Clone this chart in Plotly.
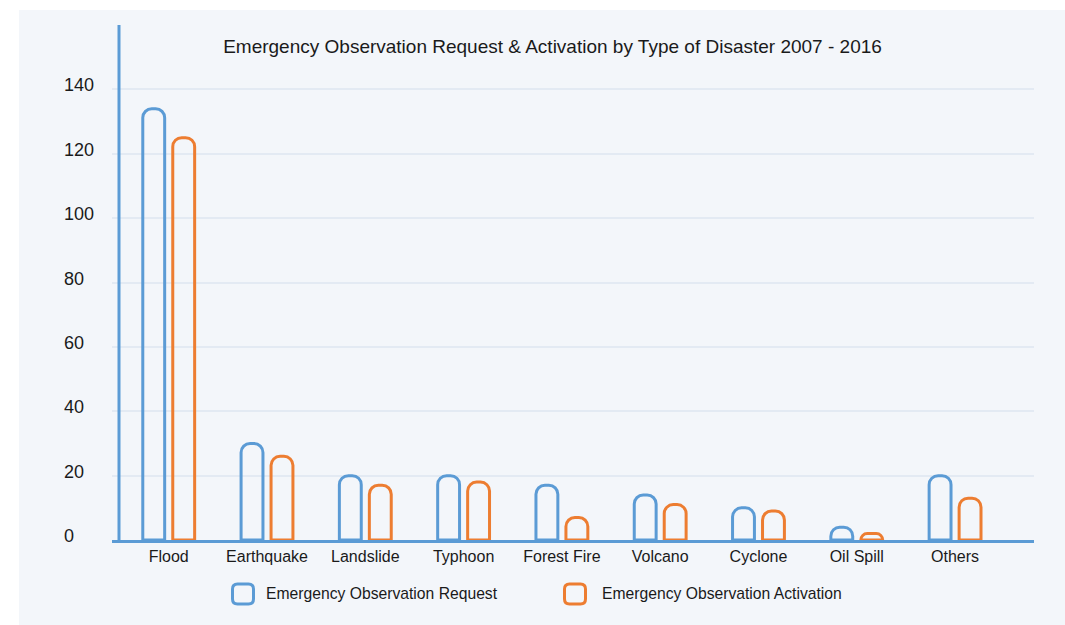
import plotly.graph_objects as go

categories = ["Flood", "Earthquake", "Landslide", "Typhoon", "Forest Fire",
              "Volcano", "Cyclone", "Oil Spill", "Others"]
request = [134, 30, 20, 20, 17, 14, 10, 4, 20]
activation = [125, 26, 17, 18, 7, 11, 9, 2, 13]
series_names = ["Emergency Observation Request", "Emergency Observation Activation"]
y_ticks = [0, 20, 40, 60, 80, 100, 120, 140]
title_text = "Emergency Observation Request & Activation by Type of Disaster 2007 - 2016"

BLUE = "#5b9bd5"
ORANGE = "#ed7d31"
PANEL = "#f3f6fa"
GRID = "#e3eaf3"
FONT = "Liberation Sans, Arial, sans-serif"
TEXT = "#1a1a1a"

W, H = 1065, 625
L, R, T, B = 112, 31, 25, 85
pw, ph = W - L - R, H - T - B


def px_x(p):
    return (p - L) / pw


def px_y(p):
    return (H - B - p) / ph


fig = go.Figure()
for name, vals, col in [(series_names[0], request, BLUE), (series_names[1], activation, ORANGE)]:
    fig.add_trace(go.Bar(
        x=categories, y=vals, name=name,
        marker=dict(color="rgba(0,0,0,0)", line=dict(color=col, width=3), cornerradius=9),
        showlegend=False,
    ))

shapes = []
# panel background
shapes.append(dict(type="rect", xref="paper", yref="paper",
                   x0=px_x(19), x1=px_x(W + 5), y0=px_y(H + 5), y1=px_y(10),
                   fillcolor=PANEL, line=dict(width=0), layer="below"))
# vertical axis line
shapes.append(dict(type="line", xref="paper", yref="paper",
                   x0=px_x(119), x1=px_x(119), y0=0, y1=1,
                   line=dict(color=BLUE, width=3), layer="above"))


def rrect(x0, y0, x1, y1, r):
    rx, ry = r / pw, r / ph
    X0, X1 = px_x(x0), px_x(x1)
    Y0, Y1 = px_y(y1), px_y(y0)  # Y0 bottom, Y1 top
    return (f"M{X0+rx},{Y1} L{X1-rx},{Y1} Q{X1},{Y1} {X1},{Y1-ry} "
            f"L{X1},{Y0+ry} Q{X1},{Y0} {X1-rx},{Y0} L{X0+rx},{Y0} "
            f"Q{X0},{Y0} {X0},{Y0+ry} L{X0},{Y1-ry} Q{X0},{Y1} {X0+rx},{Y1} Z")


annotations = []
legend_items = [(232.5, 264, BLUE, series_names[0]), (564.5, 600, ORANGE, series_names[1])]
for ix, tx, col, name in legend_items:
    shapes.append(dict(type="path", xref="paper", yref="paper",
                       path=rrect(ix, 584, ix + 21, 604, 5),
                       line=dict(color=col, width=3), fillcolor="rgba(0,0,0,0)"))
    annotations.append(dict(text=name, xref="paper", yref="paper", x=px_x(tx), y=px_y(593),
                            xanchor="left", yanchor="middle", showarrow=False,
                            font=dict(family=FONT, size=15.7, color=TEXT)))

for v in y_ticks:
    annotations.append(dict(text=str(v), xref="paper", yref="y", x=px_x(62), y=v,
                            xanchor="left", yanchor="middle", showarrow=False, yshift=4,
                            font=dict(family=FONT, size=18, color=TEXT)))

fig.update_layout(
    width=W, height=H,
    margin=dict(l=L, r=R, t=T, b=B),
    paper_bgcolor="white",
    plot_bgcolor="rgba(0,0,0,0)",
    barmode="group",
    bargap=0.39,
    bargroupgap=0.27,
    showlegend=False,
    title=dict(text=title_text, xref="container", yref="container",
               x=552.5 / W, y=1 - 46 / H, xanchor="center", yanchor="middle",
               font=dict(family=FONT, size=19, color=TEXT)),
    font=dict(family=FONT, color=TEXT),
    shapes=shapes,
    annotations=annotations,
    xaxis=dict(range=[-0.577, 8.803], showgrid=False, showline=True, linecolor=BLUE,
               linewidth=3, ticks="", tickfont=dict(family=FONT, size=16, color=TEXT),
               zeroline=False, fixedrange=True),
    yaxis=dict(range=[0, 160], tickvals=y_ticks, showticklabels=False, showgrid=True,
               gridcolor=GRID, gridwidth=2, zeroline=False, showline=False, fixedrange=True),
)

fig.write_html("out.html", config={"displayModeBar": False},
               post_script="document.body.style.margin='0';document.body.style.overflow='hidden';")
